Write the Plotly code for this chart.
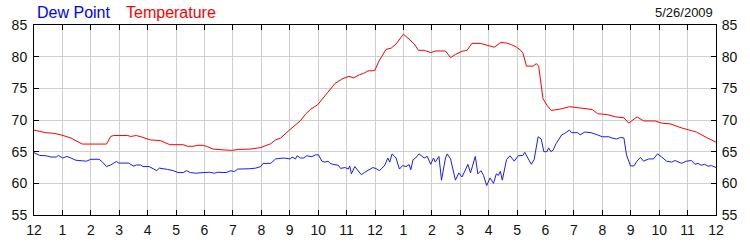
import plotly.graph_objects as go

temp_hours = [0.0, 0.2, 0.4, 0.7, 0.95, 1.3, 1.6, 1.7, 2.55, 2.7, 2.8, 3.3, 3.4, 3.6, 3.8, 4.1, 4.45, 4.78,
              5.25, 5.4, 5.6, 5.75, 5.95, 6.1, 6.3, 6.7, 6.95, 7.2, 7.6, 7.98, 8.2, 8.33, 8.5, 8.68, 8.97,
              9.2, 9.37, 9.55, 9.72, 9.98, 10.19, 10.42, 10.59, 10.83, 11.08, 11.25, 11.45, 11.6, 11.75,
              11.99, 12.14, 12.39, 12.57, 12.74, 13.0, 13.2, 13.38, 13.53, 13.73, 13.96, 14.14, 14.48,
              14.66, 14.83, 15.06, 15.24, 15.41, 15.7, 15.93, 16.2, 16.43, 16.63, 16.8, 16.98, 17.13,
              17.21, 17.33, 17.56, 17.68, 17.76, 17.91, 18.05, 18.2, 18.55, 18.84, 19.07, 19.36, 19.65,
              19.83, 20.17, 20.46, 20.76, 20.93, 21.22, 21.45, 21.86, 22.09, 22.38, 22.79, 23.31, 23.66, 24.0]
temp_values = [68.4, 68.2, 68.0, 67.9, 67.65, 67.15, 66.35, 66.2, 66.2, 67.4, 67.55, 67.55, 67.4, 67.55, 67.3,
               66.85, 66.75, 66.1, 66.1, 65.85, 65.85, 66.0, 66.0, 65.8, 65.4, 65.35, 65.2, 65.35, 65.4, 65.65,
               66.0, 66.25, 66.85, 67.15, 68.35, 69.15, 69.85, 70.9, 71.65, 72.4, 73.5, 74.75, 75.75, 76.45,
               76.9, 76.65, 77.15, 77.35, 77.75, 77.8, 79.3, 81.15, 81.35, 82.0, 83.55, 82.75, 82.0, 81.0,
               81.0, 80.65, 80.9, 80.9, 79.85, 80.35, 80.85, 81.0, 82.1, 82.1, 81.85, 81.5, 82.25, 82.15,
               81.9, 81.5, 81.0, 80.5, 78.5, 78.5, 78.9, 78.5, 73.4, 72.35, 71.5, 71.75, 72.1, 72.0, 71.85,
               71.65, 71.0, 70.85, 70.5, 70.35, 69.5, 70.5, 69.85, 69.85, 69.5, 69.4, 68.75, 68.1, 67.25, 66.5]

dew_hours = [0.0, 0.2, 0.43, 0.6, 0.78, 0.86, 1.01, 1.16, 1.3, 1.47, 1.71, 1.85, 2.0, 2.29, 2.4, 2.55, 2.7,
             2.9, 2.98, 3.33, 3.51, 3.6, 3.75, 3.83, 4.05, 4.2, 4.32, 4.41, 4.55, 4.7, 4.9, 5.07, 5.25, 5.37,
             5.5, 5.71, 5.95, 6.18, 6.35, 6.47, 6.76, 6.93, 7.05, 7.17, 7.57, 7.8, 7.98, 8.06, 8.33, 8.5,
             8.79, 9.02, 9.08, 9.2, 9.26, 9.38, 9.49, 9.6, 9.78, 9.9, 10.01, 10.13, 10.24, 10.35, 10.42,
             10.51, 10.71, 10.79, 10.94, 11.06, 11.11, 11.17, 11.29, 11.4, 11.52, 11.64, 11.81, 11.93,
             12.05, 12.16, 12.22, 12.33, 12.39, 12.45, 12.52, 12.6, 12.68, 12.74, 12.86, 12.97, 13.09,
             13.2, 13.26, 13.34, 13.43, 13.55, 13.65, 13.73, 13.84, 13.96, 14.06, 14.12, 14.25, 14.34,
             14.48, 14.54, 14.66, 14.74, 14.83, 14.95, 15.06, 15.18, 15.27, 15.36, 15.44, 15.53, 15.62,
             15.73, 15.82, 15.93, 16.05, 16.17, 16.27, 16.34, 16.41, 16.48, 16.63, 16.75, 16.9, 17.04,
             17.2, 17.27, 17.5, 17.6, 17.74, 17.85, 17.94, 18.05, 18.11, 18.19, 18.27, 18.37, 18.57,
             18.66, 18.84, 18.92, 19.13, 19.22, 19.38, 19.6, 19.83, 20.0, 20.23, 20.34, 20.5, 20.64,
             20.76, 20.85, 20.99, 21.11, 21.22, 21.34, 21.45, 21.63, 21.8, 21.94, 22.09, 22.26, 22.44,
             22.56, 22.79, 22.96, 23.14, 23.26, 23.37, 23.48, 23.6, 23.72, 23.84, 24.0]
dew_values = [64.85, 64.4, 64.35, 64.15, 64.15, 64.4, 64.0, 64.25, 64.0, 63.65, 63.55, 63.5, 63.8, 63.8,
              63.4, 62.65, 62.9, 63.45, 63.2, 63.2, 62.7, 62.9, 62.9, 62.65, 62.65, 62.25, 62.0, 62.4,
              62.25, 62.2, 62.0, 61.7, 61.7, 62.0, 61.7, 61.6, 61.7, 61.75, 61.6, 61.75, 61.7, 62.0,
              61.85, 62.25, 62.3, 62.4, 62.65, 63.15, 63.15, 63.85, 64.0, 63.85, 64.15, 63.85, 64.35,
              64.0, 64.0, 64.35, 64.2, 64.5, 64.5, 63.5, 63.35, 63.5, 63.15, 63.0, 62.85, 62.35, 62.5,
              62.25, 62.75, 61.5, 62.65, 62.0, 61.35, 61.75, 62.15, 62.5, 62.3, 62.0, 62.3, 62.75, 63.35,
              64.0, 63.35, 64.65, 64.3, 64.0, 62.25, 62.8, 62.65, 62.95, 62.15, 63.75, 64.0, 64.65, 64.3,
              64.0, 64.25, 63.0, 64.0, 63.35, 64.25, 60.5, 64.0, 64.65, 63.85, 62.0, 60.5, 61.65, 61.0,
              62.1, 63.0, 61.65, 62.85, 64.25, 61.5, 62.0, 61.25, 59.65, 60.85, 60.0, 61.5, 61.25, 61.9,
              60.5, 63.75, 64.35, 63.5, 64.35, 64.4, 64.9, 63.0, 63.75, 67.35, 67.0, 65.0, 65.0, 65.6,
              65.0, 65.25, 66.25, 67.65, 67.85, 68.4, 68.0, 68.0, 67.65, 68.1, 68.0, 67.65, 67.35, 67.35,
              67.15, 67.0, 67.25, 67.15, 64.5, 62.75, 62.75, 63.5, 64.1, 63.5, 63.85, 63.85, 64.65, 64.15,
              63.5, 63.35, 63.6, 63.15, 63.5, 63.6, 63.0, 63.15, 62.85, 63.0, 62.7, 62.8, 62.5]

x_tickvals = list(range(0, 25))
x_ticktext = ["12"] + [str(h) for h in range(1, 12)] + ["12"] + [str(h) for h in range(1, 12)] + ["12"]
y_tickvals = [55, 60, 65, 70, 75, 80, 85]

font_family = "Liberation Sans, Arial, sans-serif"
grid_color = "#cfcfcf"

fig = go.Figure()
fig.add_trace(go.Scatter(x=dew_hours, y=dew_values, mode="lines", name="Dew Point",
                         line=dict(color="#1a1aff", width=1), hoverinfo="skip"))
fig.add_trace(go.Scatter(x=temp_hours, y=temp_values, mode="lines", name="Temperature",
                         line=dict(color="#ff0000", width=1), hoverinfo="skip", yaxis="y2"))

axis_common = dict(showline=True, linecolor="black", linewidth=1, ticks="inside", ticklen=5,
                   tickcolor="black", tickfont=dict(family=font_family, size=14, color="#111"),
                   zeroline=False)

fig.update_layout(
    width=750, height=250,
    margin=dict(l=31, r=30, t=25, b=25),
    plot_bgcolor="white", paper_bgcolor="white",
    showlegend=False,
    xaxis=dict(range=[0, 24], tickvals=x_tickvals, ticktext=x_ticktext, showgrid=True,
               gridcolor=grid_color, gridwidth=1, mirror="ticks", ticklabelstandoff=2, **axis_common),
    yaxis=dict(range=[55, 85], tickvals=y_tickvals, showgrid=True, gridcolor=grid_color, gridwidth=1,
               ticklabelstandoff=3, **axis_common),
    yaxis2=dict(range=[55, 85], tickvals=y_tickvals, overlaying="y", side="right", showgrid=False,
                ticklabelstandoff=2, **axis_common),
    annotations=[
        dict(text="Dew Point", x=33, y=12, xref="paper", yref="paper", showarrow=False),
        dict(text="Temperature", x=0, y=0, xref="paper", yref="paper", showarrow=False),
        dict(text="5/26/2009", x=0, y=0, xref="paper", yref="paper", showarrow=False),
    ],
)

# Title texts positioned in pixel terms converted to paper coordinates
plot_w = 750 - 31 - 30
plot_h = 250 - 25 - 25
def px_to_paper_x(px):
    return (px - 31) / plot_w
def px_to_paper_y(py):
    return (225 - py) / plot_h

fig.layout.annotations = [
    dict(text="Dew Point", x=px_to_paper_x(32), y=px_to_paper_y(12), xref="paper", yref="paper",
         xanchor="left", yanchor="middle", showarrow=False,
         font=dict(family=font_family, size=16, color="#0000ff")),
    dict(text="Temperature", x=px_to_paper_x(122), y=px_to_paper_y(12), xref="paper", yref="paper",
         xanchor="left", yanchor="middle", showarrow=False,
         font=dict(family=font_family, size=16, color="#ff0000")),
    dict(text="5/26/2009", x=px_to_paper_x(719), y=px_to_paper_y(12), xref="paper", yref="paper",
         xanchor="right", yanchor="middle", showarrow=False,
         font=dict(family=font_family, size=13, color="#111")),
]

fig.write_html("out.html")
